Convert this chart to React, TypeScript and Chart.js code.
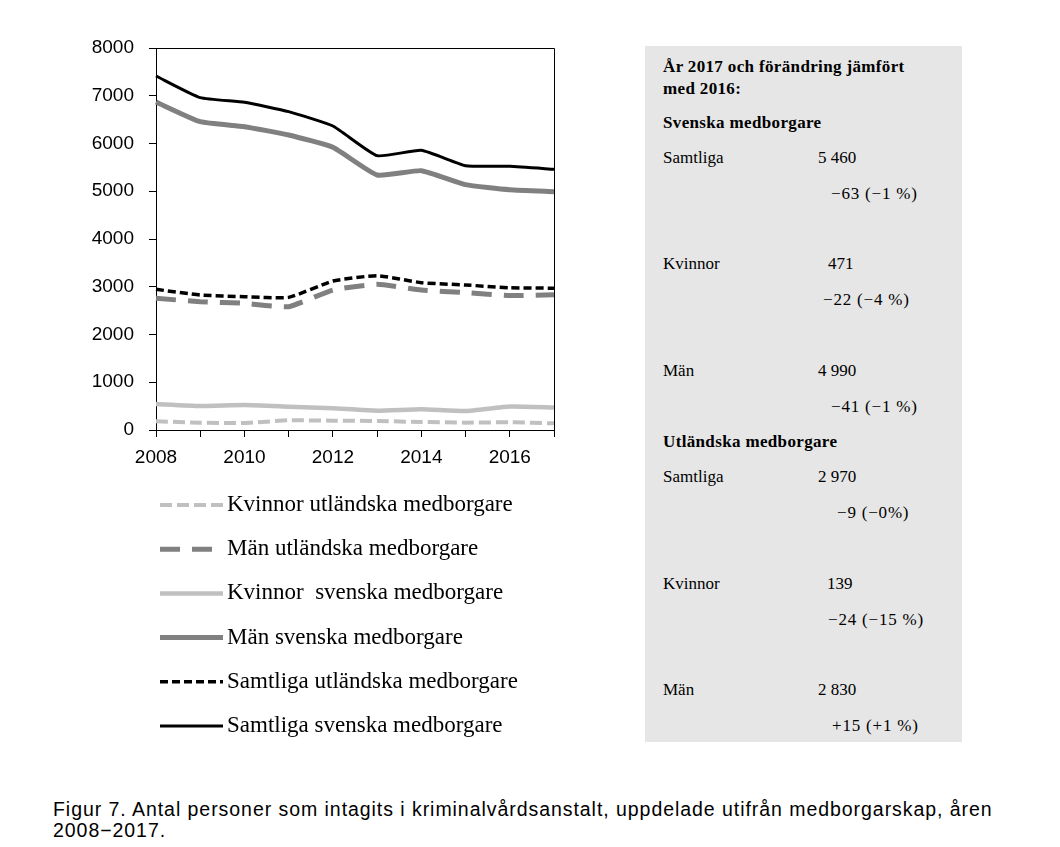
import React, { useEffect, useRef } from "react";
import { Chart, registerables } from "chart.js";

Chart.register(...registerables);

const years = ["2008", "2009", "2010", "2011", "2012", "2013", "2014", "2015", "2016", "2017"];
const kvinnorUtl = [181, 154, 147, 203, 195, 188, 168, 154, 163, 139];
const manUtl = [2757, 2688, 2653, 2583, 2932, 3051, 2932, 2876, 2815, 2830];
const kvinnorSve = [544, 503, 524, 489, 454, 405, 433, 398, 493, 471];
const manSve = [6869, 6457, 6352, 6178, 5920, 5340, 5431, 5138, 5031, 4990];
const samtligaUtl = [2946, 2827, 2792, 2778, 3120, 3232, 3085, 3037, 2979, 2970];
const samtligaSve = [7414, 6960, 6863, 6667, 6366, 5745, 5857, 5535, 5523, 5460];

const seriesNames = [
  "Kvinnor utländska medborgare",
  "Män utländska medborgare",
  "Kvinnor  svenska medborgare",
  "Män svenska medborgare",
  "Samtliga utländska medborgare",
  "Samtliga svenska medborgare",
];

const boxHeading = ["År 2017 och förändring jämfört", "med 2016:"];
const sectionTitles = ["Svenska medborgare", "Utländska medborgare"];
const rowLabels = ["Samtliga", "Kvinnor", "Män"];
const values2017 = [
  ["5 460", "471", "4 990"],
  ["2 970", "139", "2 830"],
];
const changes = [
  ["\u221263 (\u22121 %)", "\u221222 (\u22124 %)", "\u221241 (\u22121 %)"],
  ["\u22129 (\u22120%)", "\u221224 (\u221215 %)", "+15 (+1 %)"],
];
const caption = [
  "Figur 7. Antal personer som intagits i kriminalvårdsanstalt, uppdelade utifrån medborgarskap, åren",
  "2008\u22122017.",
];

const legendPlugin = {
  id: "customLegend",
  afterDraw(chart: any) {
    const ctx = chart.ctx;
    ctx.save();
    chart.data.datasets.forEach((ds: any, i: number) => {
      const y = 505 + i * 44.2;
      ctx.beginPath();
      ctx.setLineDash(ds.borderDash || []);
      ctx.lineWidth = ds.borderWidth;
      ctx.strokeStyle = ds.borderColor;
      ctx.lineCap = "butt";
      ctx.moveTo(160, y);
      ctx.lineTo(223, y);
      ctx.stroke();
      ctx.setLineDash([]);
      ctx.fillStyle = "#000";
      ctx.font = '23px "Liberation Serif"';
      ctx.textBaseline = "middle";
      ctx.textAlign = "left";
      ctx.fillText(ds.label, 227, y);
    });
    ctx.restore();
  },
};

const framePlugin = {
  id: "frame",
  afterDatasetsDraw(chart: any) {
    const { left, right, top, bottom } = chart.chartArea;
    const ctx = chart.ctx;
    ctx.save();
    ctx.strokeStyle = "#000";
    ctx.lineWidth = 1;
    ctx.beginPath();
    ctx.moveTo(Math.round(left) + 0.5, Math.round(top) + 0.5);
    ctx.lineTo(Math.round(right) + 0.5, Math.round(top) + 0.5);
    ctx.lineTo(Math.round(right) + 0.5, Math.round(bottom) + 0.5);
    ctx.stroke();
    ctx.restore();
  },
};

export default function App() {
  const ref = useRef<HTMLCanvasElement>(null);

  useEffect(() => {
    document.body.style.margin = "0";
    const mk = (i: number, data: number[], color: string, width: number, dash: number[]) => ({
      label: seriesNames[i],
      data,
      borderColor: color,
      backgroundColor: color,
      borderWidth: width,
      borderDash: dash,
      pointRadius: 0,
      fill: false,
      tension: 0.15,
    });
    const chart = new Chart(ref.current as HTMLCanvasElement, {
      type: "line",
      data: {
        labels: years,
        datasets: [
          mk(0, kvinnorUtl, "#c0c0c0", 4, [12, 5]),
          mk(1, manUtl, "#808080", 5, [20, 12]),
          mk(2, kvinnorSve, "#c0c0c0", 4.5, []),
          mk(3, manSve, "#808080", 5, []),
          mk(4, samtligaUtl, "#000000", 3.5, [8, 4]),
          mk(5, samtligaSve, "#000000", 3, []),
        ],
      },
      options: {
        animation: false,
        responsive: false,
        layout: { padding: { top: 48, right: 86, bottom: 300, left: 0 } },
        plugins: { legend: { display: false }, tooltip: { enabled: false } },
        scales: {
          x: {
            offset: false,
            grid: { drawOnChartArea: false, drawTicks: true, tickLength: 7, color: "#000" },
            border: { display: true, color: "#000", width: 1 },
            ticks: {
              autoSkip: false,
              maxRotation: 0,
              padding: 9,
              color: "#000",
              font: { family: '"Liberation Sans"', size: 19 },
              callback: (_v: any, idx: number) => (idx % 2 === 0 ? years[idx] : ""),
            },
            afterFit: (s: any) => {
              s.height = 40;
            },
          },
          y: {
            min: 0,
            max: 8000,
            grid: { drawOnChartArea: false, drawTicks: true, tickLength: 7, color: "#000" },
            border: { display: true, color: "#000", width: 1 },
            ticks: {
              stepSize: 1000,
              padding: 15,
              color: "#000",
              font: { family: '"Liberation Sans"', size: 19 },
              callback: (v: any) => String(v),
            },
            afterFit: (s: any) => {
              s.width = 156;
            },
          },
        },
      },
      plugins: [legendPlugin, framePlugin],
    });
    return () => chart.destroy();
  }, []);

  const serif = '"Liberation Serif", serif';
  const txt = (key: string, s: string, x: number, yc: number, bold = false, ls = 0) => (
    <div
      key={key}
      style={{
        position: "absolute",
        left: x,
        top: yc - 11,
        height: 22,
        lineHeight: "22px",
        fontFamily: serif,
        fontSize: 17,
        letterSpacing: ls ? ls + "px" : undefined,
        fontWeight: bold ? "bold" : "normal",
        whiteSpace: "pre",
        color: "#000",
      }}
    >
      {s}
    </div>
  );

  const valueX = [
    [818, 828, 818],
    [818, 827, 818],
  ];
  const changeX = [
    [831, 823, 831],
    [837, 828, 832],
  ];
  const sectionTitleY = [123, 442];
  const rowY = [
    [158, 264, 371],
    [477, 584, 690],
  ];

  const boxItems: any[] = [];
  boxItems.push(txt("h0", boxHeading[0], 663, 67, true, 0.35));
  boxItems.push(txt("h1", boxHeading[1], 663, 89, true, 0.35));
  sectionTitles.forEach((t, si) => {
    boxItems.push(txt("s" + si, t, 663, sectionTitleY[si], true, 0.35));
    rowLabels.forEach((r, ri) => {
      const y = rowY[si][ri];
      boxItems.push(txt(`l${si}${ri}`, r, 663, y));
      boxItems.push(txt(`v${si}${ri}`, values2017[si][ri], valueX[si][ri], y));
      boxItems.push(txt(`c${si}${ri}`, changes[si][ri], changeX[si][ri], y + 35.5, false, 0.8));
    });
  });

  return (
    <div style={{ position: "absolute", left: 0, top: 0, width: 1060, height: 847, background: "#fff" }}>
      <canvas ref={ref} width={640} height={770} style={{ position: "absolute", left: 0, top: 0 }} />
      <div
        style={{
          position: "absolute",
          left: 645,
          top: 46,
          width: 317,
          height: 696,
          background: "#e6e6e6",
        }}
      />
      {boxItems}
      <div
        style={{
          position: "absolute",
          left: 53,
          top: 799,
          fontFamily: '"Liberation Sans", Arial, sans-serif',
          fontSize: 19.5,
          letterSpacing: "0.95px",
          lineHeight: "21px",
          whiteSpace: "pre",
          color: "#000",
        }}
      >
        {caption[0]}
        {"\n"}
        {caption[1]}
      </div>
    </div>
  );
}
